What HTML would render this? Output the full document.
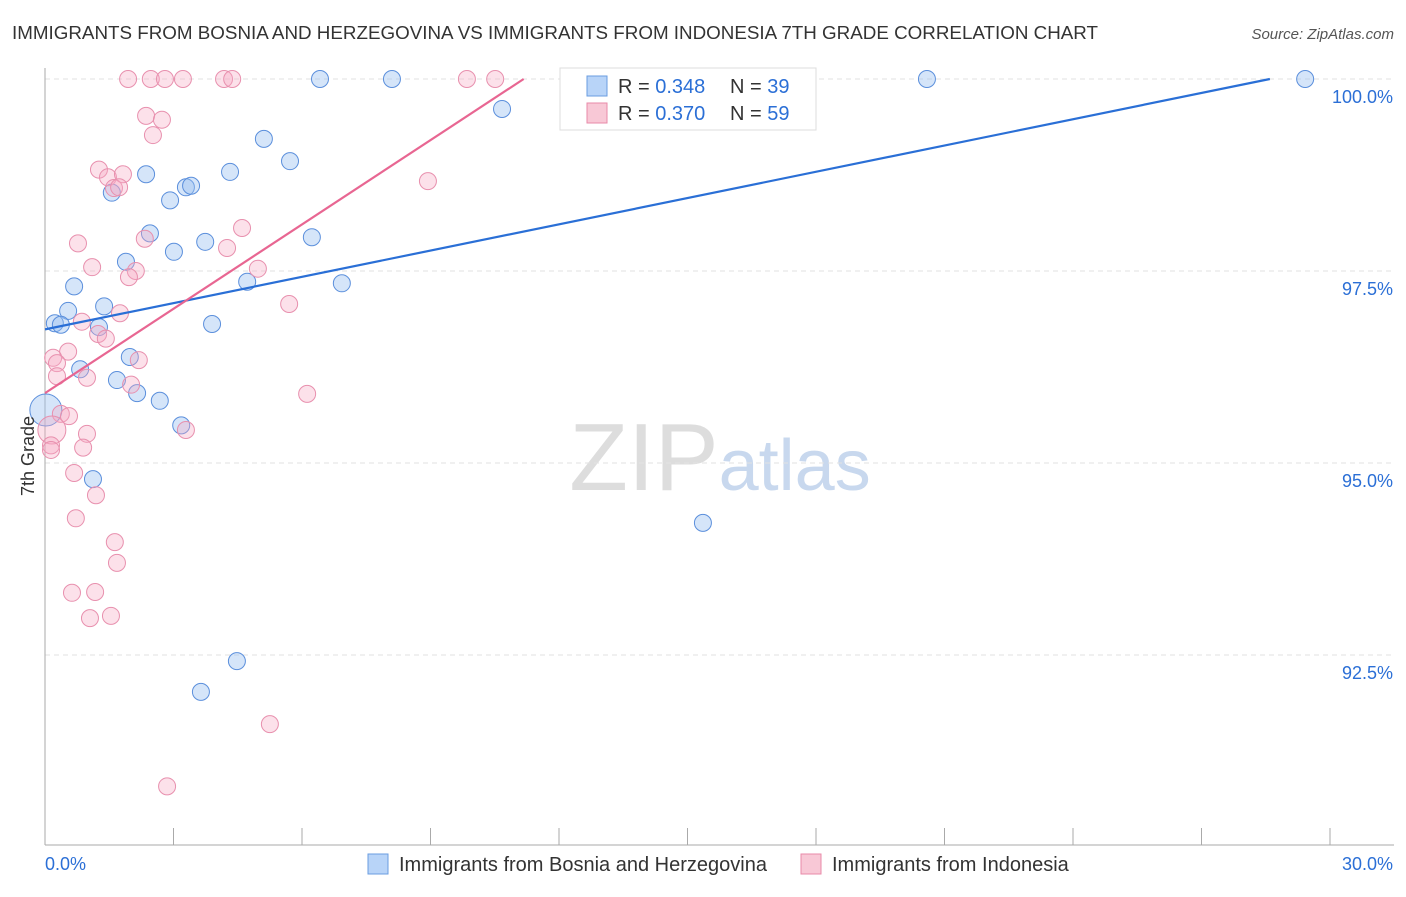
<!DOCTYPE html>
<html><head><meta charset="utf-8"><style>
body{margin:0;background:#fff;font-family:"Liberation Sans",sans-serif;}
svg text{font-family:"Liberation Sans",sans-serif;}
</style></head><body>
<svg id="c" width="1406" height="892" xmlns="http://www.w3.org/2000/svg">
<text x="12" y="39" font-size="18" fill="#333" textLength="1086" lengthAdjust="spacingAndGlyphs">IMMIGRANTS FROM BOSNIA AND HERZEGOVINA VS IMMIGRANTS FROM INDONESIA 7TH GRADE CORRELATION CHART</text>
<text x="1394" y="39" font-size="15" fill="#555" font-style="italic" text-anchor="end">Source: ZipAtlas.com</text>
<text x="720" y="490" font-size="96" fill="#ddd" text-anchor="middle" font-family="Liberation Serif">ZIP<tspan fill="#c8d8ee" font-family="Liberation Sans" font-size="72">atlas</tspan></text>
<g id="grid"></g><g id="pts"></g><g id="lines"></g>
<text transform="translate(34,456) rotate(-90)" font-size="18" fill="#333" text-anchor="middle">7th Grade</text>
<g>
<rect x="560" y="68" width="256" height="62" fill="#fff" stroke="#ddd"/>
<rect x="587" y="76" width="20" height="20" fill="#b8d4f8" stroke="#6a9de0"/>
<text x="618" y="93" font-size="20" fill="#333">R = <tspan fill="#2b6fd6">0.348</tspan></text>
<text x="730" y="93" font-size="20" fill="#333">N = <tspan fill="#2b6fd6">39</tspan></text>
<rect x="587" y="103" width="20" height="20" fill="#f8c8d6" stroke="#e88aa8"/>
<text x="618" y="120" font-size="20" fill="#333">R = <tspan fill="#2b6fd6">0.370</tspan></text>
<text x="730" y="120" font-size="20" fill="#333">N = <tspan fill="#2b6fd6">59</tspan></text>
</g>
<g>
<rect x="368" y="854" width="20" height="20" fill="#b8d4f8" stroke="#6a9de0"/>
<text x="399" y="871" font-size="20" fill="#333">Immigrants from Bosnia and Herzegovina</text>
<rect x="801" y="854" width="20" height="20" fill="#f8c8d6" stroke="#e88aa8"/>
<text x="832" y="871" font-size="20" fill="#333">Immigrants from Indonesia</text>
</g>
<text x="45" y="870" font-size="18" fill="#2b6fd6">0.0%</text>
<text x="1393" y="870" font-size="18" fill="#2b6fd6" text-anchor="end">30.0%</text>
</svg>
<script>
const blueX=[6.42,8.10,20.59,29.42,10.67,5.11,5.72,2.36,4.32,1.56,2.92,3.29,3.41,2.45,6.23,3.74,3.01,1.89,4.72,6.93,0.68,0.54,1.38,0.23,0.37,1.26,3.90,1.98,0.82,1.68,2.15,2.68,3.18,0.02,1.12,15.36,4.48,3.64];
const blueY=[100,100,100,100,99.61,99.22,98.93,98.76,98.79,98.52,98.42,98.59,98.61,97.99,97.94,97.88,97.75,97.62,97.36,97.34,97.30,96.98,97.04,96.82,96.80,96.77,96.81,96.38,96.22,96.08,95.91,95.81,95.49,95.69,94.79,94.22,92.42,92.02];
const pinkX=[1.94,2.47,2.80,3.22,4.18,4.37,9.85,10.51,2.36,2.73,2.52,1.26,1.47,1.82,1.61,1.73,8.94,2.33,0.77,4.60,4.25,1.10,2.12,1.96,4.97,5.70,1.75,0.86,1.24,1.42,0.54,0.19,0.28,2.19,0.28,0.98,2.01,6.12,0.37,0.56,0.16,0.98,3.29,0.89,0.14,0.14,0.68,1.19,0.72,1.63,1.68,0.63,1.17,1.05,1.54,5.25,2.85];
const pinkY=[100,100,100,100,100,100,100,100,99.52,99.47,99.27,98.82,98.72,98.76,98.58,98.59,98.67,97.92,97.86,98.06,97.80,97.55,97.50,97.42,97.53,97.07,96.95,96.84,96.68,96.62,96.45,96.37,96.30,96.34,96.13,96.11,96.02,95.90,95.64,95.61,95.43,95.38,95.43,95.20,95.23,95.17,94.87,94.58,94.28,93.97,93.70,93.31,93.32,92.98,93.01,91.60,90.79];
const yTicks=[100,97.5,95,92.5];
const yTickLabels=["100.0%","97.5%","95.0%","92.5%"];
const blueLine=[96.74,0.114];
const pinkLine=[95.91,0.366];
const NS="http://www.w3.org/2000/svg";
const sx=v=>45+v*1285/30, sy=v=>79+(100-v)*192/2.5;
function mk(t,a,p){const e=document.createElementNS(NS,t);for(const k in a)e.setAttribute(k,a[k]);p.appendChild(e);return e;}
const grid=document.getElementById('grid');
yTicks.forEach((v,i)=>{const l=mk('line',{x1:45,x2:1394,y1:sy(v),y2:sy(v),stroke:'#e2e2e2','stroke-dasharray':'5,4'},grid);


const t=mk('text',{x:1393,y:sy(v)+24,'font-size':18,fill:'#2b6fd6','text-anchor':'end'},grid);t.textContent=yTickLabels[i];

});
mk('line',{x1:45,x2:45,y1:68,y2:845,stroke:'#aaa'},grid);
mk('line',{x1:45,x2:1394,y1:845,y2:845,stroke:'#aaa'},grid);
for(let i=0;i<=10;i++){const tk=mk('line',{x1:sx(i*3),x2:sx(i*3),y1:828,y2:845,stroke:'#aaa'},grid);

}
const pts=document.getElementById('pts');
blueX.forEach((x,i)=>{const c=mk('circle',{cx:sx(x),cy:sy(blueY[i]),r:(i==33?16:8.5),fill:'rgba(150,190,240,0.4)',stroke:'#5b8fdc','stroke-width':1},pts);

});
pinkX.forEach((x,i)=>{const c=mk('circle',{cx:sx(x),cy:sy(pinkY[i]),r:(i==40?14:8.5),fill:'rgba(245,170,195,0.35)',stroke:'#e890ae','stroke-width':1},pts);

});
const lines=document.getElementById('lines');
function trend(p,col,name){const xe=Math.min(30,(100-p[0])/p[1]);
const l=mk('line',{x1:sx(0),y1:sy(p[0]),x2:sx(xe),y2:sy(p[0]+p[1]*xe),stroke:col,'stroke-width':2.2},lines);

}
trend(blueLine,'#2a6fd6','bosnia-trendline');
trend(pinkLine,'#e86692','indonesia-trendline');
</script>
</body></html>
